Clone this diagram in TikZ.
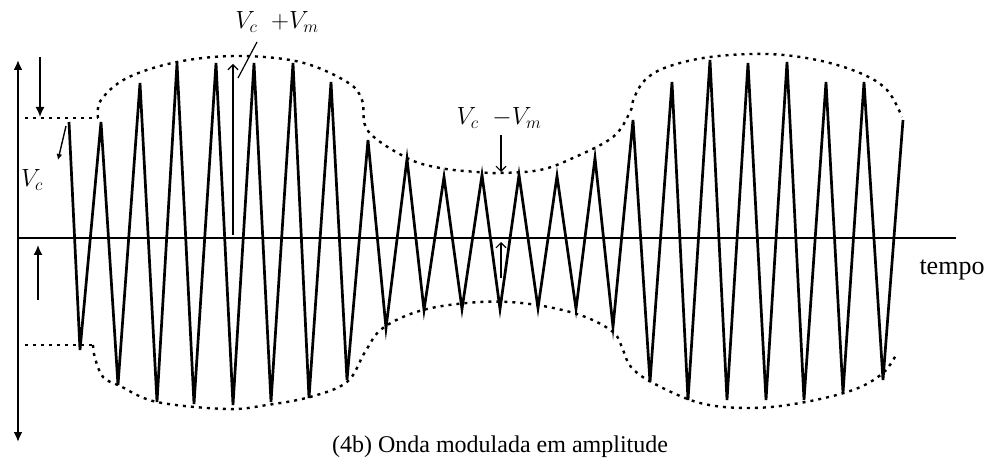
\documentclass[tikz,border=0pt]{standalone}
\usepackage{fontspec}
\setmainfont{Liberation Serif}
\usetikzlibrary{arrows.meta}

\begin{document}
\begin{tikzpicture}[x=1pt, y=-1pt,
    wave/.style={line width=2.7pt},
    envelope/.style={line width=2.4pt, dash pattern=on 3pt off 5pt},
    axisline/.style={line width=2pt},
    fatarrow/.style={line width=1.6pt, -{Latex[length=10pt, width=9pt]}},
    barbarrow/.style={line width=1.1pt, -{Straight Barb[length=5pt, width=10pt]}},
    lbl/.style={font=\fontsize{27}{30}\selectfont, inner sep=0pt}]
    \useasboundingbox (0,0) rectangle (996,470);
    % Axes
    \coordinate (axL) at (18,238);
    \coordinate (axR) at (956,238);
    \coordinate (vT) at (18,60);
    \coordinate (vB) at (18,442);
    \draw[axisline] (axL) -- (axR);
    \draw[axisline, {Latex[length=10pt, width=9pt]}-{Latex[length=10pt, width=9pt]}] (vB) -- (vT);
    % Carrier levels
    \draw[envelope] (25,118) -- (98,118);
    \draw[envelope] (25,345) -- (93,345);
    % Upper envelope
    \draw[envelope] plot[smooth, tension=0.6] coordinates {(98,118) (101,100) (127,78) (177,62)
      (237,56) (300,62) (347,82) (362,100) (368,131) (407,158) (440,168) (477,172) (500,173)
      (540,170) (573,158) (613,137) (630,112) (634,98) (645,80) (667,67) (710,57) (767,54)
      (817,60) (860,73) (887,90) (902,117)};
    % Lower envelope
    \draw[envelope] plot[smooth, tension=0.6] coordinates {(93,345) (95,358) (103,377) (120,386)
      (157,402) (227,409) (267,405) (310,397) (347,382) (365,352) (383,328) (423,310) (480,302)
      (530,304) (580,315) (613,332) (623,350) (631,367) (653,383) (700,403) (750,408)
      (800,403) (853,390) (883,373) (897,353)};
    % Modulated wave
    \draw[wave] plot coordinates {(69,122) (80,350) (101,122) (118,385) (140,83) (157,402)
      (177,63) (194,404) (216,63) (233,405) (254,63) (271,402) (293,63) (309,398) (331,82)
      (347,380) (368,140) (386,328) (407,159) (424,310) (444,177) (462,309) (482,175)
      (500,309) (519,175) (538,308) (557,176) (576,309) (595,158) (613,327) (633,120)
      (650,382) (672,82) (688,400) (710,60) (727,400) (748,63) (766,400) (787,62)
      (804,400) (826,82) (843,393) (864,82) (883,380) (903,120)};
    % Labels
    \node[lbl] (vc) at (32,180) {$V_c$};
    \node[lbl] (vcmax) at (277,22) {$V_c\;\;{+}V_m$};
    \node[lbl] (vcmin) at (499,118) {$V_c\;\;{-}V_m$};
    \node[font=\fontsize{26}{30}\selectfont, inner sep=0pt] (tempo) at (952,270) {tempo};
    \node[font=\fontsize{24}{28}\selectfont, inner sep=0pt] (caption) at (500,447) {(4b) Onda modulada em amplitude};
    % Level markers
    \coordinate (dnA) at (40,57);
    \coordinate (dnB) at (40,117);
    \coordinate (upA) at (38,300);
    \coordinate (upB) at (38,245);
    \draw[fatarrow] (dnA) -- (dnB);
    \draw[fatarrow] (upA) -- (upB);
    \coordinate (vcA) at (66,126);
    \coordinate (vcB) at (58,160);
    \draw[line width=1.4pt, -{Latex[length=6pt, width=6pt]}] (vcA) -- (vcB);
    % Peak amplitude
    \coordinate (maxT) at (233,64);
    \coordinate (maxB) at (233,235);
    \coordinate (maxL) at (257,42);
    \coordinate (maxE) at (238,78);
    \draw[barbarrow, {Straight Barb[length=5pt, width=10pt]}-] (maxT) -- (maxB);
    \draw[line width=1.2pt] (maxL) -- (maxE);
    % Minimum amplitude
    \coordinate (minT) at (501,135);
    \coordinate (minB) at (501,172);
    \coordinate (minU) at (501,278);
    \coordinate (minA) at (501,242);
    \draw[barbarrow] (minT) -- (minB);
    \draw[barbarrow] (minU) -- (minA);
  \end{tikzpicture}
\end{document}
